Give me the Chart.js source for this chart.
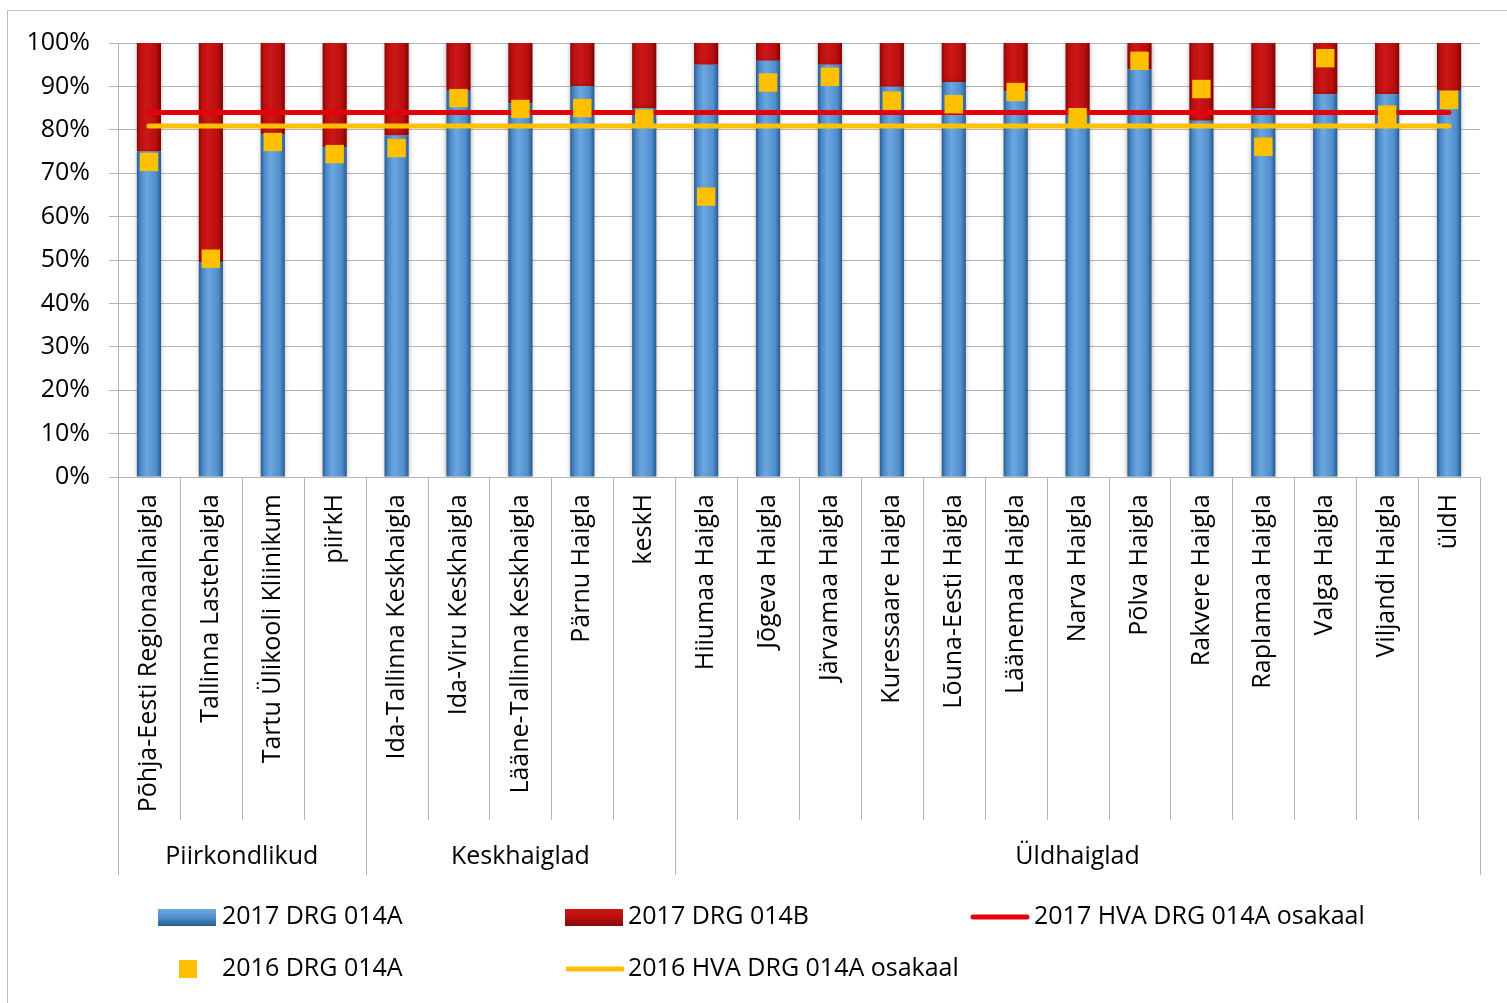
<!DOCTYPE html>
<html>
<head>
<meta charset="utf-8">
<script src="https://cdn.jsdelivr.net/npm/chart.js@4/dist/chart.umd.min.js"></script>
<style>
  html, body { margin: 0; padding: 0; background: #fff; }
  #wrap { position: relative; width: 1507px; height: 1003px; }
</style>
</head>
<body>
<div id="wrap"><canvas id="drgChart" width="1507" height="1003"></canvas></div>
<script>
// Hospitals (x categories)
const hospitals = [
    'Põhja-Eesti Regionaalhaigla', 'Tallinna Lastehaigla', 'Tartu Ülikooli Kliinikum', 'piirkH',
    'Ida-Tallinna Keskhaigla', 'Ida-Viru Keskhaigla', 'Lääne-Tallinna Keskhaigla', 'Pärnu Haigla', 'keskH',
    'Hiiumaa Haigla', 'Jõgeva Haigla', 'Järvamaa Haigla', 'Kuressaare Haigla', 'Lõuna-Eesti Haigla',
    'Läänemaa Haigla', 'Narva Haigla', 'Põlva Haigla', 'Rakvere Haigla', 'Raplamaa Haigla',
    'Valga Haigla', 'Viljandi Haigla', 'üldH'
];

// Hospital groups (second level of the category axis)
const groupNames = ['Piirkondlikud', 'Keskhaiglad', 'Üldhaiglad'];
const groupSizes = [4, 5, 13];

// Shares in percent
const drg014A_2017 = [75, 49.5, 79, 76, 78.7, 89, 86.1, 90.1, 85, 95, 95.9, 95, 89.9, 91, 88.9, 84, 93.9, 82.1, 84.9, 88.2, 88.2, 89];
const drg014B_2017 = [25, 50.5, 21, 24, 21.3, 11, 13.9, 9.9, 15, 5, 4.1, 5, 10.1, 9, 11.1, 16, 6.1, 17.9, 15.1, 11.8, 11.8, 11];
const drg014A_2016 = [72.6, 50.3, 77.2, 74.4, 75.8, 87.3, 84.8, 85, 82.6, 64.6, 90.9, 92.2, 86.7, 85.9, 88.7, 82.9, 95.9, 89.4, 76.1, 96.5, 83.5, 86.9];
const hva2017 = [84, 84, 84, 84, 84, 84, 84, 84, 84, 84, 84, 84, 84, 84, 84, 84, 84, 84, 84, 84, 84, 84];
const hva2016 = [80.9, 80.9, 80.9, 80.9, 80.9, 80.9, 80.9, 80.9, 80.9, 80.9, 80.9, 80.9, 80.9, 80.9, 80.9, 80.9, 80.9, 80.9, 80.9, 80.9, 80.9, 80.9];

const yTicks = [0, 10, 20, 30, 40, 50, 60, 70, 80, 90, 100];

const FONT = "'Open Sans', 'Noto Sans', sans-serif";
const FONT_SIZE = 25;
const GRID = '#b5b5b5';
const COLORS = {
    blue: ['#2c5c8f', '#4a88c8', '#6ca7df', '#4f8ecd', '#2b5a8a'],
    red: ['#850808', '#bd0f0f', '#cc1717', '#b90e0e', '#7a0505'],
    lineRed: '#e3000b',
    gold: '#ffc000'
};

// horizontal bevel-like gradient across one bar
function barGradient(stops) {
    return function(context) {
        const chart = context.chart;
        const x = chart.scales.x;
        if (!x || context.dataIndex === undefined) return stops[2];
        const cx = x.getPixelForValue(context.dataIndex);
        const w = (x.width / hospitals.length) * 0.39;
        if (!isFinite(cx) || !isFinite(w) || w <= 0) return stops[2];
        const g = chart.ctx.createLinearGradient(cx - w / 2, 0, cx + w / 2, 0);
        g.addColorStop(0, stops[0]);
        g.addColorStop(0.15, stops[1]);
        g.addColorStop(0.4, stops[2]);
        g.addColorStop(0.8, stops[3]);
        g.addColorStop(1, stops[4]);
        return g;
    };
}

// frame, extended axis separators, group labels and legend
const decorPlugin = {
    id: 'decor',
    beforeDraw(chart) {
        const ctx = chart.ctx;
        ctx.save();
        ctx.fillStyle = '#fff';
        ctx.fillRect(0, 0, chart.width, chart.height);
        ctx.strokeStyle = '#bdbdbd';
        ctx.lineWidth = 1;
        ctx.strokeRect(7.5, 10.5, chart.width + 10, chart.height + 10);
        ctx.restore();
    },
    beforeDatasetDraw(chart, args) {
        if (chart.data.datasets[args.index].type === 'bar') {
            const ctx = chart.ctx;
            ctx.save();
            ctx.shadowColor = 'rgba(0,0,0,0.35)';
            ctx.shadowBlur = 5;
        }
    },
    afterDatasetDraw(chart, args) {
        if (chart.data.datasets[args.index].type === 'bar') chart.ctx.restore();
    },
    afterDraw(chart) {
        const ctx = chart.ctx;
        const x = chart.scales.x;
        const area = chart.chartArea;
        const step = x.width / hospitals.length;
        const catBottom = 820, groupBottom = 875;

        ctx.save();
        ctx.strokeStyle = GRID;
        ctx.lineWidth = 1;

        // boundaries between hospitals
        const groupEdges = [0];
        groupSizes.forEach(s => groupEdges.push(groupEdges[groupEdges.length - 1] + s));
        for (let i = 0; i <= hospitals.length; i++) {
            const px = Math.round(x.left + i * step) + 0.5;
            const bottom = groupEdges.includes(i) ? groupBottom : catBottom;
            ctx.beginPath();
            ctx.moveTo(px, area.bottom);
            ctx.lineTo(px, bottom);
            ctx.stroke();
        }

        // group labels
        ctx.fillStyle = '#000';
        ctx.font = FONT_SIZE + 'px ' + FONT;
        ctx.textAlign = 'center';
        ctx.textBaseline = 'middle';
        groupNames.forEach((name, g) => {
            const mid = x.left + (groupEdges[g] + groupEdges[g + 1]) / 2 * step;
            ctx.fillText(name, mid, 857);
        });

        // legend
        const ds = chart.data.datasets;
        ctx.textAlign = 'left';
        const swatch = (x0, y0, stops) => {
            const g = ctx.createLinearGradient(0, y0, 0, y0 + 17);
            g.addColorStop(0, stops[2]);
            g.addColorStop(0.5, stops[3]);
            g.addColorStop(1, stops[0]);
            ctx.fillStyle = g;
            ctx.fillRect(x0, y0, 58, 17);
        };
        swatch(158, 909, COLORS.blue);
        swatch(565, 909, COLORS.red);
        ctx.lineCap = 'round';
        ctx.lineWidth = 5;
        ctx.strokeStyle = COLORS.lineRed;
        ctx.beginPath(); ctx.moveTo(973, 917); ctx.lineTo(1027, 917); ctx.stroke();
        ctx.strokeStyle = COLORS.gold;
        ctx.beginPath(); ctx.moveTo(568, 969); ctx.lineTo(622, 969); ctx.stroke();
        ctx.fillStyle = COLORS.gold;
        ctx.fillRect(179, 960, 18, 18);

        ctx.fillStyle = '#000';
        ctx.fillText(ds[0].label, 222, 917);
        ctx.fillText(ds[1].label, 628, 917);
        ctx.fillText(ds[2].label, 1034, 917);
        ctx.fillText(ds[4].label, 222, 969);
        ctx.fillText(ds[3].label, 628, 969);
        ctx.restore();
    }
};

new Chart(document.getElementById('drgChart'), {
    type: 'bar',
    data: {
        labels: hospitals,
        datasets: [
            {
                type: 'bar',
                label: '2017 DRG 014A',
                data: drg014A_2017,
                stack: 'bars',
                backgroundColor: barGradient(COLORS.blue),
                barPercentage: 0.39,
                categoryPercentage: 1,
                order: 3
            },
            {
                type: 'bar',
                label: '2017 DRG 014B',
                data: drg014B_2017,
                stack: 'bars',
                backgroundColor: barGradient(COLORS.red),
                barPercentage: 0.39,
                categoryPercentage: 1,
                order: 3
            },
            {
                type: 'line',
                label: '2017 HVA DRG 014A osakaal',
                data: hva2017,
                stack: 'hva17',
                borderColor: COLORS.lineRed,
                borderWidth: 5,
                borderCapStyle: 'round',
                pointRadius: 0,
                order: 1
            },
            {
                type: 'line',
                label: '2016 HVA DRG 014A osakaal',
                data: hva2016,
                stack: 'hva16',
                borderColor: COLORS.gold,
                borderWidth: 5,
                borderCapStyle: 'round',
                pointRadius: 0,
                order: 2
            },
            {
                type: 'line',
                label: '2016 DRG 014A',
                data: drg014A_2016,
                stack: 'm16',
                showLine: false,
                pointStyle: 'rect',
                pointRadius: 13,
                pointBorderWidth: 0,
                pointBackgroundColor: COLORS.gold,
                pointBorderColor: COLORS.gold,
                order: 0
            }
        ]
    },
    options: {
        responsive: false,
        animation: false,
        layout: { padding: { top: 43, right: 27, left: 0, bottom: 0 } },
        plugins: {
            legend: { display: false },
            tooltip: { enabled: false }
        },
        scales: {
            x: {
                stacked: true,
                afterFit: scale => { scale.height = 526; },
                grid: { display: false },
                border: { display: true, color: GRID, width: 1 },
                ticks: {
                    autoSkip: false,
                    minRotation: 90,
                    maxRotation: 90,
                    padding: 9,
                    color: '#000',
                    font: { family: FONT, size: FONT_SIZE }
                }
            },
            y: {
                stacked: true,
                min: 0,
                max: 100,
                afterFit: scale => { scale.width = 118; },
                afterBuildTicks: scale => { scale.ticks = yTicks.map(v => ({ value: v })); },
                grid: { color: GRID, lineWidth: 1, tickLength: 9 },
                border: { display: true, color: GRID, width: 1 },
                ticks: {
                    padding: 19,
                    color: '#000',
                    font: { family: FONT, size: FONT_SIZE },
                    callback: v => v + '%'
                }
            }
        }
    },
    plugins: [decorPlugin]
});
</script>
</body>
</html>
